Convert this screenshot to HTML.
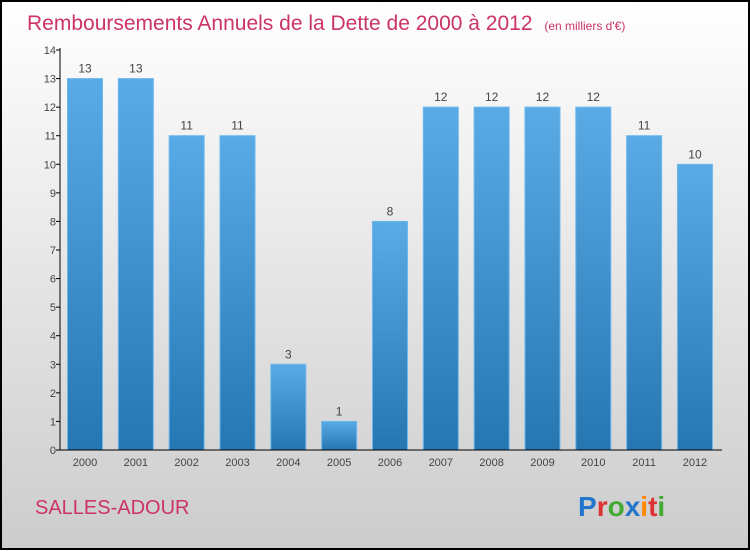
<!DOCTYPE html>
<html><head><meta charset="utf-8"><style>
body{margin:0;width:750px;height:550px;overflow:hidden;font-family:"Liberation Sans",sans-serif}
</style></head><body>
<svg id="c" width="750" height="550" xmlns="http://www.w3.org/2000/svg">
<defs>
<linearGradient id="bg" x1="0" y1="0" x2="0" y2="1"><stop offset="0" stop-color="#ffffff"/><stop offset="1" stop-color="#cccccc"/></linearGradient>
<linearGradient id="bar" x1="0" y1="0" x2="0" y2="1"><stop offset="0" stop-color="#5aaae6"/><stop offset="1" stop-color="#2676b2"/></linearGradient>
</defs>
<rect x="1" y="1" width="748" height="548" fill="url(#bg)" stroke="#000" stroke-width="2"/>
<text x="27" y="30" font-size="21" fill="#cc3366">Remboursements Annuels de la Dette de 2000 à 2012 <tspan font-size="12" dx="6">(en milliers d'€)</tspan></text>
<g id="yaxis"></g><g id="bars"></g><g id="xaxis"></g>
<line x1="60" y1="48" x2="60" y2="450" stroke="#000"/>
<line x1="60" y1="450" x2="722" y2="450" stroke="#000"/>
<text x="35" y="514" font-size="20" fill="#cc3366">SALLES-ADOUR</text>
<text x="578" y="516" font-size="28" font-weight="bold"><tspan fill="#2277cc">P</tspan><tspan fill="#dd3333">r</tspan><tspan fill="#44aa33">o</tspan><tspan fill="#2277cc">x</tspan><tspan fill="#ff8800">i</tspan><tspan fill="#dd3333">t</tspan><tspan fill="#44aa33">i</tspan></text>
</svg>
<script>
const categories=["2000","2001","2002","2003","2004","2005","2006","2007","2008","2009","2010","2011","2012"];
const values=[13,13,11,11,3,1,8,12,12,12,12,11,10];
const yTicks=[0,1,2,3,4,5,6,7,8,9,10,11,12,13,14];
const NS="http://www.w3.org/2000/svg";
const y=v=>450-v*400/14;
const x=i=>85+i*50.83;
function mk(t,a,p){const e=document.createElementNS(NS,t);for(const k in a)e.setAttribute(k,a[k]);p.appendChild(e);return e;}
const ya=document.getElementById('yaxis'),bs=document.getElementById('bars'),xa=document.getElementById('xaxis');
yTicks.forEach(v=>{
  const l=mk('line',{x1:56,x2:60,y1:y(v),y2:y(v),stroke:'#000'},ya);
  
  
  const t=mk('text',{x:56,y:y(v)+4,'font-size':11,fill:'#444','text-anchor':'end'},ya);
  t.textContent=v;
  
  
});
categories.forEach((c,i)=>{
  const r=mk('rect',{x:x(i)-17.5,y:y(values[i]),width:35,height:450-y(values[i]),fill:'url(#bar)',stroke:'#6bb8ee','stroke-width':1},bs);
  
  
  const t=mk('text',{x:x(i),y:y(values[i])-6,'font-size':12,fill:'#444','text-anchor':'middle'},bs);
  t.textContent=values[i];
  
  
  const xl=mk('text',{x:x(i),y:466,'font-size':11,fill:'#444','text-anchor':'middle'},xa);
  xl.textContent=c;
  
  
});
</script>
</body></html>
